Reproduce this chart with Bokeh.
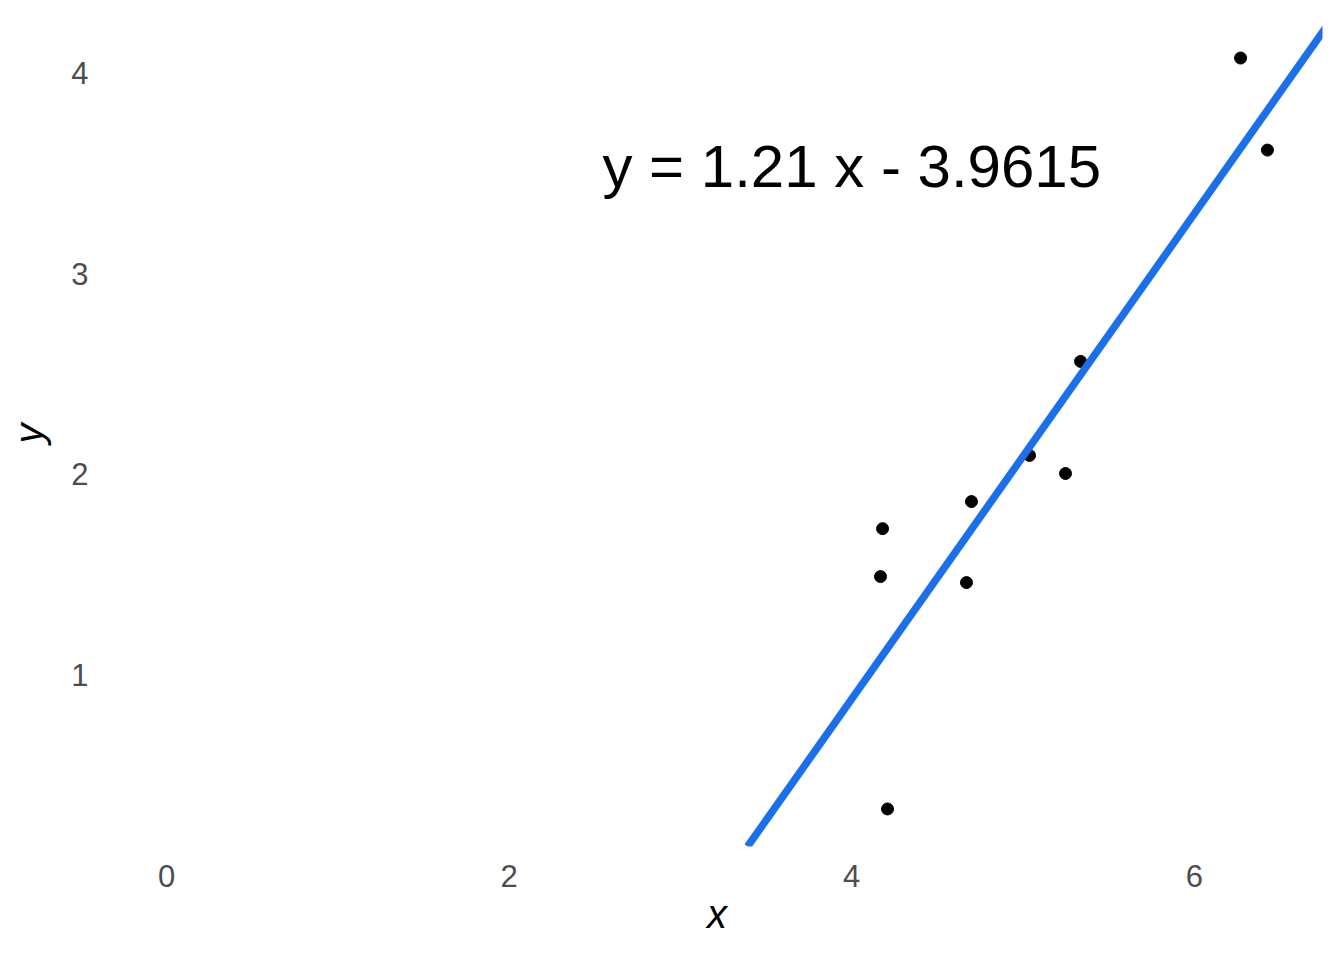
from bokeh.plotting import figure
from bokeh.models import Range1d, FixedTicker, Slope
from bokeh.core.properties import value
from bokeh.embed import file_html
from bokeh.resources import INLINE

# data
x = [4.180, 4.168, 4.209, 4.670, 4.699, 5.038, 5.248, 5.336, 6.270, 6.427]
y = [1.728, 1.489, 0.330, 1.459, 1.863, 2.093, 2.003, 2.562, 4.075, 3.616]
slope = 1.21
intercept = -3.9615
label = "y = 1.21 x - 3.9615"
label_x = 4.0
label_y = 3.5
x_ticks = [0, 2, 4, 6]
y_ticks = [1, 2, 3, 4]

FONT = "Liberation Sans"

# ggplot-like 5% expansion, x limits include 0
x_lo, x_hi = min(0, min(x)), max(x)
y_lo, y_hi = min(y), max(y)
x_pad = 0.05 * (x_hi - x_lo)
y_pad = 0.05 * (y_hi - y_lo)

p = figure(width=1328, height=944, output_backend="svg", toolbar_location=None,
           x_range=Range1d(x_lo - x_pad, x_hi + x_pad),
           y_range=Range1d(y_lo - y_pad, y_hi + y_pad),
           min_border_left=111, min_border_right=6,
           min_border_top=20, min_border_bottom=98)
p.outline_line_color = None
p.background_fill_color = "white"
p.border_fill_color = "white"
p.grid.visible = False

# regression line
p.add_layout(Slope(gradient=slope, y_intercept=intercept,
                   line_color="#1B6FEA", line_width=7.5))

# points
p.scatter(x, y, size=12, color="black")

# equation
p.text(x=[label_x], y=[label_y], text=[label], text_font=value(FONT),
       text_font_size="60px", text_align="center", text_baseline="middle",
       text_color="black", y_offset=-7)

p.xaxis.ticker = FixedTicker(ticks=x_ticks)
p.yaxis.ticker = FixedTicker(ticks=y_ticks)
for ax in (p.xaxis[0], p.yaxis[0]):
    ax.axis_line_color = None
    ax.major_tick_line_color = None
    ax.minor_tick_line_color = None
    ax.major_label_text_font = FONT
    ax.major_label_text_font_size = "31px"
    ax.major_label_text_color = "#4D4D4D"
    ax.axis_label_text_font = FONT
    ax.axis_label_text_font_size = "40px"
    ax.axis_label_text_font_style = "italic"
    ax.axis_label_text_color = "black"
p.xaxis.axis_label = "x"
p.yaxis.axis_label = "y"
p.xaxis.major_label_standoff = 12
p.yaxis.major_label_standoff = 17
p.xaxis.axis_label_standoff = 2
p.yaxis.axis_label_standoff = 17
p.yaxis.major_label_orientation = "horizontal"

open("out.html", "w").write(file_html(p, INLINE))
